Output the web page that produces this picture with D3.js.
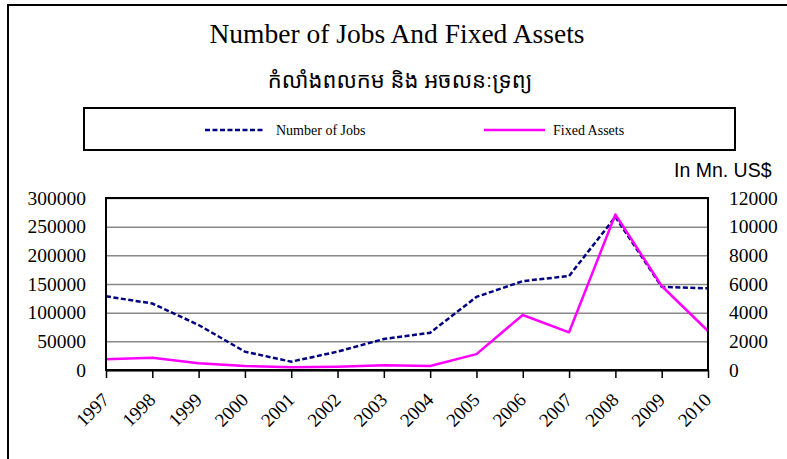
<!DOCTYPE html>
<html>
<head>
<meta charset="utf-8">
<script src="https://cdn.jsdelivr.net/npm/d3@7"></script>
<style>
  html, body { margin: 0; padding: 0; background: #fff; }
  svg { display: block; }
</style>
</head>
<body>
<svg id="chart" width="787" height="459"></svg>
<script>
// Data
const years = ["1997", "1998", "1999", "2000", "2001", "2002", "2003",
               "2004", "2005", "2006", "2007", "2008", "2009", "2010"];
const jobs = [128500, 116000, 78500, 32000, 14500, 32000, 54000,
              65000, 127500, 155000, 164000, 267000, 145000, 142500];
const fixedAssets = [745, 860, 465, 280, 190, 230, 330,
                     280, 1110, 3840, 2630, 10850, 5860, 2720];
const leftTicks = [0, 50000, 100000, 150000, 200000, 250000, 300000];
const rightTicks = [0, 2000, 4000, 6000, 8000, 10000, 12000];

const titleText = "Number of Jobs And Fixed Assets";
const subtitleText = "កំលាំងពលកម និង អចលនៈទ្រព្យ";
const unitText = "In Mn. US$";
const seriesNames = ["Number of Jobs", "Fixed Assets"];

const serif = "'Liberation Serif', 'Times New Roman', serif";
const sans = "'Liberation Sans', Arial, sans-serif";
const jobsColor = "#000080";
const assetsColor = "#ff00ff";

const svg = d3.select("#chart");
const plot = { left: 106, right: 708, top: 198, bottom: 370 };
const width = plot.right - plot.left;
const height = plot.bottom - plot.top;

// Outer frame (runs off the right and bottom of the picture)
svg.append("rect")
    .attr("x", 8).attr("y", 5)
    .attr("width", 900).attr("height", 600)
    .attr("fill", "none")
    .attr("stroke", "#000")
    .attr("stroke-width", 2);

// Titles
svg.append("text")
    .attr("x", 397).attr("y", 43)
    .attr("text-anchor", "middle")
    .style("font-family", serif)
    .style("font-size", "27.5px")
    .text(titleText);

svg.append("text")
    .attr("x", 400).attr("y", 88)
    .attr("text-anchor", "middle")
    .style("font-family", "'Noto Sans Khmer', 'Khmer OS', 'Noto Serif Khmer', " + serif)
    .style("font-size", "22px")
    .text(subtitleText);

// Legend
const legend = svg.append("g");
legend.append("rect")
    .attr("x", 84).attr("y", 108)
    .attr("width", 651).attr("height", 42)
    .attr("fill", "none")
    .attr("stroke", "#000")
    .attr("stroke-width", 2);

const legendItems = [
    { name: seriesNames[0], color: jobsColor, dash: "5,2.5", x1: 205, x2: 264, tx: 276 },
    { name: seriesNames[1], color: assetsColor, dash: null, x1: 484, x2: 545, tx: 553 }
];
legendItems.forEach(d => {
    legend.append("line")
        .attr("x1", d.x1).attr("x2", d.x2)
        .attr("y1", 130).attr("y2", 130)
        .attr("stroke", d.color)
        .attr("stroke-width", 2.5)
        .attr("stroke-dasharray", d.dash);
    legend.append("text")
        .attr("x", d.tx).attr("y", 134.5)
        .style("font-family", serif)
        .style("font-size", "14px")
        .text(d.name);
});

svg.append("text")
    .attr("x", 674).attr("y", 177)
    .style("font-family", sans)
    .style("font-size", "19.5px")
    .text(unitText);

// Scales
const x = d3.scalePoint().domain(years).range([plot.left, plot.right]);
const yLeft = d3.scaleLinear().domain([0, 300000]).range([plot.bottom, plot.top]);
const yRight = d3.scaleLinear().domain([0, 12000]).range([plot.bottom, plot.top]);

// Grid
const grid = svg.append("g")
    .attr("transform", `translate(${plot.left},0)`)
    .call(d3.axisLeft(yLeft).tickValues(leftTicks).tickSize(-width).tickFormat(""));
grid.select(".domain").remove();
grid.selectAll("line").attr("stroke", "#888").attr("stroke-width", 1.5);

// Lines
const jobsLine = d3.line()
    .x((d, i) => x(years[i]))
    .y(d => yLeft(d));
const assetsLine = d3.line()
    .x((d, i) => x(years[i]))
    .y(d => yRight(d));

svg.append("path")
    .datum(jobs)
    .attr("d", jobsLine)
    .attr("fill", "none")
    .attr("stroke", jobsColor)
    .attr("stroke-width", 2.5)
    .attr("stroke-dasharray", "5,2.5");

svg.append("path")
    .datum(fixedAssets)
    .attr("d", assetsLine)
    .attr("fill", "none")
    .attr("stroke", assetsColor)
    .attr("stroke-width", 2.5)
    .attr("stroke-linejoin", "round");

// Plot frame
svg.append("rect")
    .attr("x", plot.left).attr("y", plot.top)
    .attr("width", width).attr("height", height)
    .attr("fill", "none")
    .attr("stroke", "#000")
    .attr("stroke-width", 2);

// Left axis
const leftAxis = svg.append("g")
    .attr("transform", `translate(${plot.left},0)`)
    .call(d3.axisLeft(yLeft).tickValues(leftTicks).tickSize(0).tickPadding(20).tickFormat(d3.format("d")));
leftAxis.select(".domain").remove();
leftAxis.selectAll("text")
    .style("font-family", serif)
    .style("font-size", "19.5px")
    .attr("fill", "#000");

// Right axis
const rightAxis = svg.append("g")
    .attr("transform", `translate(${plot.right},0)`)
    .call(d3.axisRight(yRight).tickValues(rightTicks).tickSize(0).tickPadding(21).tickFormat(d3.format("d")));
rightAxis.select(".domain").remove();
rightAxis.selectAll("text")
    .style("font-family", serif)
    .style("font-size", "19.5px")
    .attr("fill", "#000");

// Bottom axis
const bottomAxis = svg.append("g")
    .attr("transform", `translate(0,${plot.bottom})`)
    .call(d3.axisBottom(x).tickSize(8).tickSizeOuter(0));
bottomAxis.select(".domain").attr("stroke-width", 2).attr("stroke", "#000");
bottomAxis.selectAll("line").attr("stroke", "#000").attr("stroke-width", 1.5);
bottomAxis.selectAll("text")
    .style("font-family", serif)
    .style("font-size", "19px")
    .attr("fill", "#000")
    .attr("text-anchor", "end")
    .attr("dy", null)
    .attr("y", null)
    .attr("transform", "translate(4,31) rotate(-45)");
</script>
</body>
</html>
